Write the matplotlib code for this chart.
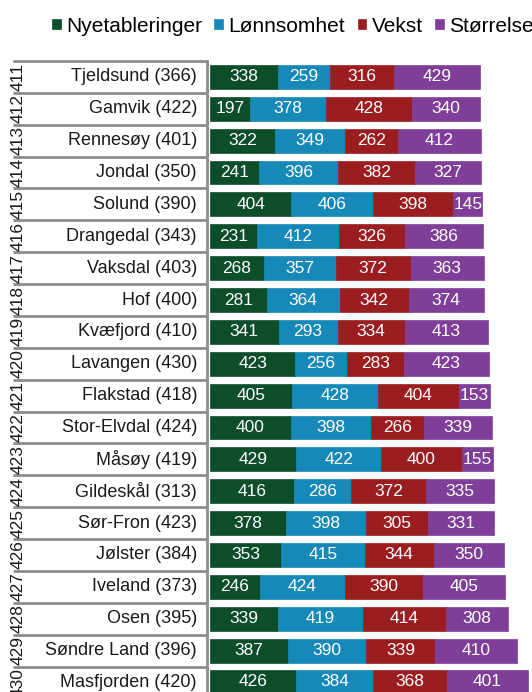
import matplotlib
matplotlib.use("Agg")
import matplotlib.pyplot as plt
from matplotlib.transforms import blended_transform_factory
import numpy as np

plt.rcParams["font.family"] = ["Liberation Sans", "DejaVu Sans"]

ranks = ["411", "412", "413", "414", "415", "416", "417", "418", "419", "420",
         "421", "422", "423", "424", "425", "426", "427", "428", "429", "430"]
names = ["Tjeldsund (366)", "Gamvik (422)", "Rennesøy (401)", "Jondal (350)", "Solund (390)",
         "Drangedal (343)", "Vaksdal (403)", "Hof (400)", "Kvæfjord (410)", "Lavangen (430)",
         "Flakstad (418)", "Stor-Elvdal (424)", "Måsøy (419)", "Gildeskål (313)", "Sør-Fron (423)",
         "Jølster (384)", "Iveland (373)", "Osen (395)", "Søndre Land (396)", "Masfjorden (420)"]
nyetableringer = [338, 197, 322, 241, 404, 231, 268, 281, 341, 423,
                  405, 400, 429, 416, 378, 353, 246, 339, 387, 426]
lonnsomhet = [259, 378, 349, 396, 406, 412, 357, 364, 293, 256,
              428, 398, 422, 286, 398, 415, 424, 419, 390, 384]
vekst = [316, 428, 262, 382, 398, 326, 372, 342, 334, 283,
         404, 266, 400, 372, 305, 344, 390, 414, 339, 368]
storrelse = [429, 340, 412, 327, 145, 386, 363, 374, 413, 423,
             153, 339, 155, 335, 331, 350, 405, 308, 410, 401]

series = [("Nyetableringer", nyetableringer, "#0c4d2a"),
          ("Lønnsomhet", lonnsomhet, "#1689b8"),
          ("Vekst", vekst, "#9a1d20"),
          ("Størrelse", storrelse, "#7f3f98")]

W, H = 532, 692
fig = plt.figure(figsize=(W / 100, H / 100), dpi=100)
ax = fig.add_axes([207 / W, 0, (W - 207) / W, (H - 61) / H])

y = np.arange(len(names))
left = np.zeros(len(names))
for label, vals, color in series:
    vals = np.array(vals)
    bars = ax.barh(y, vals, left=left, height=0.75, color=color, label=label,
                   edgecolor=color, linewidth=0.5)
    ax.bar_label(bars, labels=[str(v) for v in vals], label_type="center",
                 color="white", fontsize=12.5)
    left += vals

ax.set_xlim(-15, 1600)
ax.set_ylim(19.3, -0.5)
ax.set_xticks([])
ax.set_yticks([])
for s in ["top", "right", "bottom"]:
    ax.spines[s].set_visible(False)
ax.spines["left"].set_color("#8c8c8c")
ax.spines["left"].set_linewidth(2)

# two-level category axis: rank (rotated) and name, with separators
tr = blended_transform_factory(fig.transFigure, ax.transData)
for i in range(len(names)):
    ax.text(197 / W, i, names[i], transform=tr, ha="right", va="center",
            fontsize=13, color="#1a1a1a", clip_on=False)
    ax.text(18 / W, i, ranks[i], transform=tr, ha="center", va="center",
            rotation=90, fontsize=12.5, color="#1a1a1a", clip_on=False)
for i in range(len(names) + 1):
    ax.plot([13 / W, 207 / W], [i - 0.5, i - 0.5], transform=tr, color="#8c8c8c",
            linewidth=2, clip_on=False, solid_capstyle="butt")

fig.legend(loc="center left", bbox_to_anchor=(52 / W, 1 - 26 / H), ncol=4,
           frameon=False, fontsize=15, handlelength=0.42, handleheight=0.42,
           handletextpad=0.25, columnspacing=0.6, borderaxespad=0, borderpad=0)

fig.savefig("out.png", dpi=100)
